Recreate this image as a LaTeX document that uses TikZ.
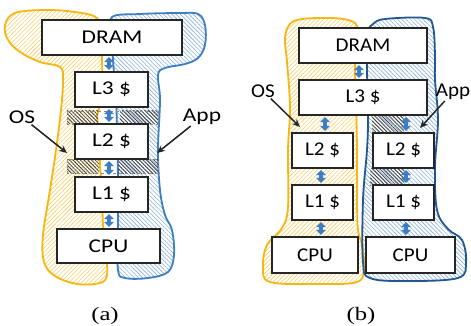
\documentclass[tikz,border=0pt]{standalone}
\usepackage{fontspec}
\usepackage{graphicx}
\setmainfont{Liberation Serif}
\newfontfamily\boxfont{Carlito}
\usetikzlibrary{arrows.meta,patterns.meta}
\definecolor{ygold}{HTML}{F7B713}
\definecolor{lblue}{HTML}{3E7EC3}
\definecolor{dblue}{HTML}{24578F}
\definecolor{boxline}{HTML}{262626}
\definecolor{arrblue}{HTML}{3C7DC3}
\newcommand\stretchA[1]{\scalebox{1.2}[1]{#1}}
\newcommand\stretchB[1]{\scalebox{1.08}[1]{#1}}
\newcommand\stretchC[1]{\scalebox{1.3}[1]{#1}}
\tikzset{
  cbox/.style={draw=boxline, line width=1.7pt, fill=white, inner sep=0pt,
    font=\boxfont\fontsize{19.5}{19.5}\selectfont},
  lbl/.style={inner sep=1pt, font=\boxfont\fontsize{19.5}{19.5}\selectfont},
  captxt/.style={inner sep=0pt, font=\fontsize{19}{19}\selectfont},
  yblob/.style={draw=ygold, line width=1.8pt,
    pattern={Lines[angle=45,distance=3pt,line width=0.6pt]}, pattern color=ygold!65},
  bblob/.style={draw=#1, line width=1.8pt,
    pattern={Lines[angle=-45,distance=3pt,line width=0.6pt]}, pattern color=lblue!60},
  gband/.style={pattern={Lines[angle=-45,distance=2.6pt,line width=0.8pt]}, pattern color=black!75},
  gframe/.style={draw=black!45, line width=0.4pt, dashed},
  dblarr/.style={arrblue, line width=3.2pt,
    {Triangle[width=9.5pt,length=5pt]}-{Triangle[width=9.5pt,length=5pt]},
    shorten >=1.2pt, shorten <=1.2pt},
  ptr/.style={draw=boxline, line width=1.5pt, -{Stealth[length=8pt,width=7pt]}}
}
\begin{document}
\begin{tikzpicture}[x=1pt,y=-1pt]
\path[use as bounding box, fill=white] (0,0) rectangle (471,326);

% ---------- panel (a) blobs ----------
\draw[yblob] plot[smooth cycle, tension=0.6] coordinates {
 (5,25) (15,13) (45,10) (75,12) (97,18) (101,35) (102,57) (102,80) (100,105)
 (97,115) (98,125) (100,150) (100,165) (102,190) (103,225) (106,255) (107,275)
 (100,283) (77,284) (55,276) (44,262) (43,235) (50,190) (56,150) (61,110)
 (63,80) (60,67) (40,62) (20,52) (8,40)};
\draw[bblob=lblue] plot[smooth cycle, tension=0.6] coordinates {
 (112,17) (140,14) (180,13) (198,14) (205,25) (205,45) (198,58) (185,64)
 (165,68) (158,75) (160,100) (158,150) (160,190) (165,215) (172,230) (174,255)
 (168,272) (148,278) (125,278) (118,270) (118,230) (118,180) (117,130)
 (116,100) (113,60) (112,35)};

% gray bands (a)
\fill[gband] (67,111) rectangle (98,124);
\fill[gband] (120,111) rectangle (158,124);
\fill[gband] (67,159) rectangle (99,173);
\fill[gband] (118,159) rectangle (158,173);
\draw[gframe] (67,111) rectangle (158,124);
\draw[gframe] (67,159) rectangle (158,173);

% ---------- panel (b) blobs ----------
\draw[yblob] plot[smooth cycle, tension=0.6] coordinates {
 (290,24) (302,19) (330,18) (348,20) (357,26) (358,45) (355,67) (356,100)
 (357,150) (357,200) (358,230) (362,245) (364,268) (357,282) (318,284)
 (270,282) (263,267) (267,245) (282,228) (288,207) (288,150) (290,107)
 (287,62) (285,38)};
\draw[bblob=dblue] plot[smooth cycle, tension=0.6] coordinates {
 (373,24) (385,19) (425,18) (433,27) (435,55) (435,80) (438,120) (435,167)
 (437,210) (448,229) (462,240) (466,262) (458,278) (405,281) (370,278)
 (363,262) (363,200) (367,150) (368,117) (367,67) (368,33)};

% gray bands (b)
\fill[gband] (372,116) rectangle (404,133);
\fill[gband] (370,168) rectangle (404,185);

% ---------- boxes (a) ----------
\node[cbox, minimum width=140pt, minimum height=35pt] (ldram) at (112,37.5) {\stretchA{DRAM}};
\node[cbox, minimum width=73pt, minimum height=35pt] (ll3) at (111.5,89.5) {\stretchA{L3 \$}};
\node[cbox, minimum width=73pt, minimum height=35pt] (ll2) at (111.5,141.5) {\stretchA{L2 \$}};
\node[cbox, minimum width=73pt, minimum height=35pt] (ll1) at (111.5,194.5) {\stretchA{L1 \$}};
\node[cbox, minimum width=103pt, minimum height=34pt] (lcpu) at (108.5,246) {\stretchA{CPU}};

\draw[dblarr] ([xshift=-3pt]ldram.south) -- ([xshift=-2.5pt]ll3.north);
\draw[dblarr] ([xshift=-2.5pt]ll3.south) -- ([xshift=-2.5pt]ll2.north);
\draw[dblarr] ([xshift=-2.5pt]ll2.south) -- ([xshift=-2.5pt]ll1.north);
\draw[dblarr] ([xshift=-2.5pt]ll1.south) -- ([xshift=0.5pt]lcpu.north);

\node[lbl] (los) at (22,117) {\stretchA{OS}};
\node[lbl] (lapp) at (202,117) {\stretchA{App}};
\coordinate (lostip) at (67,153);
\coordinate (lapptip) at (157,153);
\draw[ptr] (los) -- (lostip);
\draw[ptr] (lapp) -- (lapptip);

% ---------- boxes (b) ----------
\node[cbox, minimum width=128pt, minimum height=35pt] (rdram) at (363,45.5) {\stretchB{DRAM}};
\node[cbox, minimum width=128pt, minimum height=35pt] (rl3) at (363,97.5) {\stretchB{L3 \$}};
\node[cbox, minimum width=61pt, minimum height=35pt] (rl2a) at (322.5,150.5) {\stretchB{L2 \$}};
\node[cbox, minimum width=61pt, minimum height=35pt] (rl1a) at (322.5,202.5) {\stretchB{L1 \$}};
\node[cbox, minimum width=86pt, minimum height=36pt] (rcpua) at (315,255) {\stretchB{CPU}};
\node[cbox, minimum width=61pt, minimum height=35pt] (rl2b) at (403.5,150.5) {\stretchB{L2 \$}};
\node[cbox, minimum width=61pt, minimum height=35pt] (rl1b) at (403.5,202.5) {\stretchB{L1 \$}};
\node[cbox, minimum width=89pt, minimum height=36pt] (rcpub) at (410.5,255) {\stretchB{CPU}};

\draw[dblarr] ([xshift=-4pt]rdram.south) -- ([xshift=-4pt]rl3.north);
\draw[dblarr] ([xshift=2.5pt]rl2a.north |- rl3.south) -- ([xshift=2.5pt]rl2a.north);
\draw[dblarr] ([xshift=-1.5pt]rl2a.south) -- ([xshift=-1.5pt]rl1a.north);
\draw[dblarr] ([xshift=-1.5pt]rl1a.south) -- ([xshift=6pt]rcpua.north);
\draw[dblarr] ([xshift=2.5pt]rl2b.north |- rl3.south) -- ([xshift=2.5pt]rl2b.north);
\draw[dblarr] ([xshift=2.5pt]rl2b.south) -- ([xshift=2.5pt]rl1b.north);
\draw[dblarr] ([xshift=2.5pt]rl1b.south) -- ([xshift=-4.5pt]rcpub.north);

\node[lbl] (ros) at (263,91) {\stretchB{OS}};
\node[lbl] (rapp) at (453,92) {\stretchB{App}};
\coordinate (rostip) at (300,127);
\coordinate (rapptip) at (420,128);
\draw[ptr] (ros) -- (rostip);
\draw[ptr] (rapp) -- (rapptip);

% captions
\node[captxt] (capa) at (105,316) {\stretchC{(a)}};
\node[captxt] (capb) at (361,316) {\stretchC{(b)}};
\end{tikzpicture}
\end{document}
